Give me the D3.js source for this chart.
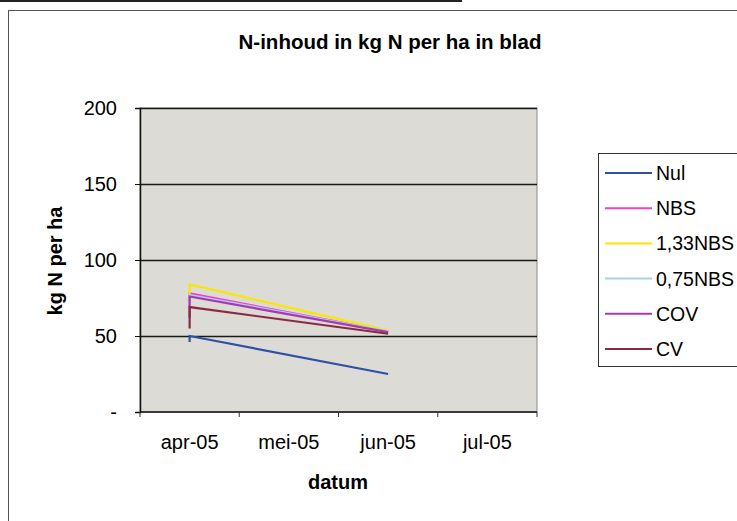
<!DOCTYPE html>
<html>
<head>
<meta charset="utf-8">
<script src="https://cdn.jsdelivr.net/npm/d3@7"></script>
<style>
  body { margin: 0; background: #fff; }
  svg { display: block; font-family: "Liberation Sans", Arial, sans-serif; }
</style>
</head>
<body>
<svg id="chart" width="737" height="521"></svg>
<script>
const months = ['apr-05', 'mei-05', 'jun-05', 'jul-05'];
const yTicks = [0, 50, 100, 150, 200];
const pointMonths = ['apr-05', 'apr-05', 'jun-05'];

const seriesNames = ['Nul', 'NBS', '1,33NBS', '0,75NBS', 'COV', 'CV'];
const seriesColors = ['#3050a8', '#f040c8', '#f8e800', '#a8d0f0', '#a838b0', '#8a2a40'];
const nul = [46, 50, 25];
const nbs = [72, 78, 53];
const nbs133 = [77, 84, 53.5];
const nbs075 = [70, 77, 53];
const cov = [62, 76, 52.5];
const cv = [55, 69, 51.5];
const seriesValues = [nul, nbs, nbs133, nbs075, cov, cv];

const svg = d3.select('#chart');
const fontSize = 20;

// outer frame
svg.append('line')
    .attr('x1', 0).attr('x2', 462).attr('y1', 1).attr('y2', 1)
    .attr('stroke', '#222').attr('stroke-width', 2);
svg.append('rect')
    .attr('x', 8.5).attr('y', 10.5).attr('width', 760).attr('height', 540)
    .attr('fill', '#fff').attr('stroke', '#555').attr('stroke-width', 1);

const margin = { left: 140, right: 537, top: 108, bottom: 412 };

const x = d3.scaleBand().domain(months).range([margin.left, margin.right]);
const y = d3.scaleLinear().domain([0, 200]).range([margin.bottom, margin.top]);

// plot area
svg.append('rect')
    .attr('x', margin.left).attr('y', margin.top)
    .attr('width', margin.right - margin.left).attr('height', margin.bottom - margin.top)
    .attr('fill', '#dcdbd6').attr('stroke', '#888').attr('stroke-width', 1);

// gridlines
svg.append('g')
    .selectAll('line')
    .data(yTicks.filter(d => d > 0))
    .join('line')
    .attr('x1', margin.left).attr('x2', margin.right)
    .attr('y1', d => Math.round(y(d)) + 0.5).attr('y2', d => Math.round(y(d)) + 0.5)
    .attr('stroke', '#1a1a1a').attr('stroke-width', 1.5);

// y axis
const yAxis = svg.append('g')
    .attr('transform', `translate(${margin.left},0)`)
    .call(d3.axisLeft(y).tickValues(yTicks).tickSize(5).tickPadding(18)
        .tickFormat(d => d === 0 ? '-' : d));
yAxis.select('.domain').attr('stroke', '#111').attr('stroke-width', 1.5);
yAxis.selectAll('.tick line').attr('stroke', '#111');
yAxis.selectAll('.tick text').attr('font-size', fontSize).attr('fill', '#000')
    .attr('font-family', '"Liberation Sans", Arial, sans-serif');

// x axis: ticks at month boundaries, labels centred in month
const xAxisG = svg.append('g').attr('transform', `translate(0,${margin.bottom})`);
xAxisG.append('line')
    .attr('x1', margin.left).attr('x2', margin.right)
    .attr('y1', 0).attr('y2', 0)
    .attr('stroke', '#111').attr('stroke-width', 1.5);
xAxisG.selectAll('.xtick')
    .data(months.map(m => x(m)).concat([margin.right]))
    .join('line')
    .attr('x1', d => d).attr('x2', d => d)
    .attr('y1', 0).attr('y2', 5)
    .attr('stroke', '#333');
xAxisG.selectAll('text')
    .data(months)
    .join('text')
    .attr('x', d => x(d) + x.bandwidth() / 2)
    .attr('y', 37)
    .attr('text-anchor', 'middle')
    .attr('font-size', fontSize)
    .text(d => d);

// lines
const line = d3.line()
    .x((d, i) => x(pointMonths[i]) + x.bandwidth() / 2)
    .y(d => y(d));

svg.append('g')
    .selectAll('path')
    .data(seriesValues)
    .join('path')
    .attr('fill', 'none')
    .attr('stroke', (d, i) => seriesColors[i])
    .attr('stroke-width', 2.2)
    .attr('d', line);

// titles
svg.append('text')
    .attr('x', 390).attr('y', 49)
    .attr('text-anchor', 'middle')
    .attr('font-size', 20.5).attr('font-weight', 'bold')
    .text('N-inhoud in kg N per ha in blad');

svg.append('text')
    .attr('transform', `translate(62,261) rotate(-90)`)
    .attr('text-anchor', 'middle')
    .attr('font-size', fontSize).attr('font-weight', 'bold')
    .text('kg N per ha');

svg.append('text')
    .attr('x', 338).attr('y', 489)
    .attr('text-anchor', 'middle')
    .attr('font-size', fontSize).attr('font-weight', 'bold')
    .text('datum');

// legend
const legend = svg.append('g');
legend.append('rect')
    .attr('x', 598.5).attr('y', 153.5).attr('width', 160).attr('height', 213)
    .attr('fill', '#fff').attr('stroke', '#333').attr('stroke-width', 1);

const legendY = d3.scalePoint().domain(seriesNames).range([173, 349]);
const items = legend.selectAll('.item')
    .data(seriesNames)
    .join('g')
    .attr('transform', d => `translate(0,${legendY(d)})`);
items.append('line')
    .attr('x1', 605).attr('x2', 652)
    .attr('stroke', (d, i) => seriesColors[i])
    .attr('stroke-width', 2);
items.append('text')
    .attr('x', 656).attr('y', 7)
    .attr('font-size', 19.5)
    .text(d => d);
</script>
</body>
</html>
